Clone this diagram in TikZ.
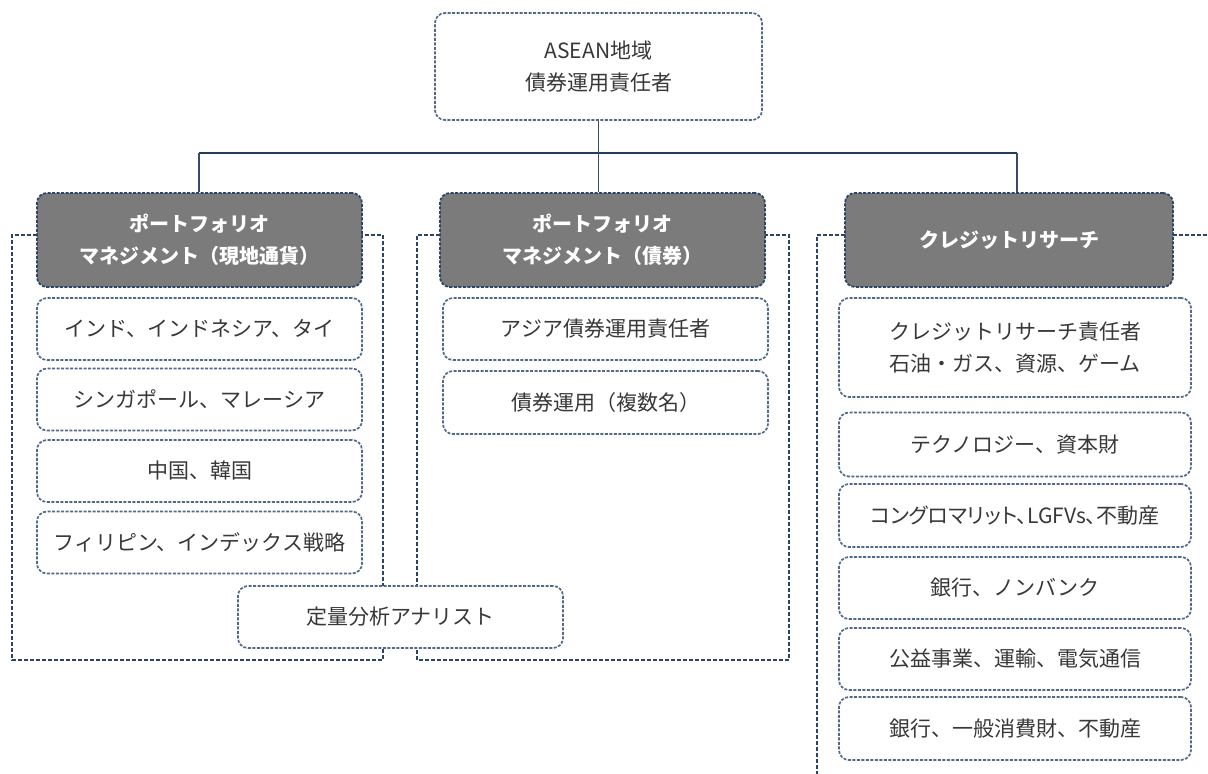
\documentclass[tikz,border=0pt]{standalone}
\usepackage{fontspec}
\setmainfont{Noto Sans CJK JP}
\newfontfamily\jpprop[RawFeature=+palt]{Noto Sans CJK JP}
\usetikzlibrary{positioning}
\definecolor{framec}{HTML}{2E4466}
\definecolor{boxc}{HTML}{50688A}
\definecolor{linec}{HTML}{243C5C}
\definecolor{headfill}{HTML}{7B7B7B}
\definecolor{txt}{HTML}{383838}
\tikzset{
  base/.style={rounded corners=10pt, dash pattern=on 3pt off 1.5pt, align=center, inner sep=2pt, text=txt,
    font=\fontsize{21}{32}\selectfont},
  cbox/.style={base, draw=boxc, line width=1.7pt, fill=white},
  hbox/.style={base, draw=framec, line width=1.8pt, fill=headfill, text=white,
    font=\fontsize{20}{32}\selectfont\bfseries},
  frame/.style={draw=framec, line width=2pt, dash pattern=on 4pt off 2pt},
  conn/.style={draw=linec, line width=2.2pt},
  vconn/.style={draw=linec!80!gray, line width=1.6pt}
}
\begin{document}
\begin{tikzpicture}[x=1pt,y=-1pt]
\useasboundingbox (0,0) rectangle (1208,774);
\fill[white] (0,0) rectangle (1208,774);
% group frames
\draw[frame] (37,235) -- (12,235) -- (12,660) -- (383,660) -- (383,235) -- (362,235);
\draw[frame] (440,235) -- (417,235) -- (417,660) -- (789,660) -- (789,235) -- (765,235);
\draw[frame] (845,235) -- (817,235) -- (817,774);
\draw[frame] (1173,235) -- (1208,235);
% nodes
\node[cbox, minimum width=327pt, minimum height=107pt] (top) at (598.5,66.5) {ASEAN地域\\債券運用責任者};
\node[hbox, minimum width=325pt, minimum height=94pt] (h1) at (199.5,240) {ポートフォリオ\\マネジメント（現地通貨）};
\node[hbox, minimum width=325pt, minimum height=94pt] (h2) at (602.5,240) {ポートフォリオ\\マネジメント（債券）};
\node[hbox, minimum width=328pt, minimum height=94pt] (h3) at (1009,240) {クレジットリサーチ};
% connectors
\coordinate (bl) at (199,153);
\coordinate (br) at (1017,153);
\draw[conn] (bl) -- (br);
\draw[vconn] (top.south) -- (top.south |- h2.north);
\draw[vconn] (bl) -- (bl |- h1.north);
\draw[vconn] (br) -- (br |- h3.north);
% left column
\node[cbox, minimum width=325pt, minimum height=62pt] (a1) at (199.5,329) {インド、インドネシア、タイ};
\node[cbox, minimum width=325pt, minimum height=62pt] (a2) at (199.5,399.5) {シンガポール、マレーシア};
\node[cbox, minimum width=325pt, minimum height=62pt] (a3) at (199.5,471) {中国、韓国};
\node[cbox, minimum width=325pt, minimum height=62pt] (a4) at (199.5,542.5) {フィリピン、インデックス戦略};
\node[cbox, minimum width=325pt, minimum height=62pt] (q) at (400.5,617) {定量分析アナリスト};
% middle column
\node[cbox, minimum width=325pt, minimum height=62pt] (b1) at (605.5,329) {アジア債券運用責任者};
\node[cbox, minimum width=325pt, minimum height=63pt] (b2) at (605.5,402.5) {債券運用（複数名）};
% right column
\node[cbox, minimum width=352pt, minimum height=99pt] (c1) at (1015,347.5) {クレジットリサーチ責任者\\石油・ガス、資源、ゲーム};
\node[cbox, minimum width=352pt, minimum height=64pt] (c2) at (1015,444.5) {テクノロジー、資本財};
\node[cbox, minimum width=352pt, minimum height=63pt] (c3) at (1015,515.5) {\jpprop コングロマリット、LGFVs、不動産};
\node[cbox, minimum width=352pt, minimum height=62pt] (c4) at (1015,588) {銀行、ノンバンク};
\node[cbox, minimum width=352pt, minimum height=62pt] (c5) at (1015,659) {公益事業、運輸、電気通信};
\node[cbox, minimum width=352pt, minimum height=63pt] (c6) at (1015,728.5) {銀行、一般消費財、不動産};
\end{tikzpicture}
\end{document}
